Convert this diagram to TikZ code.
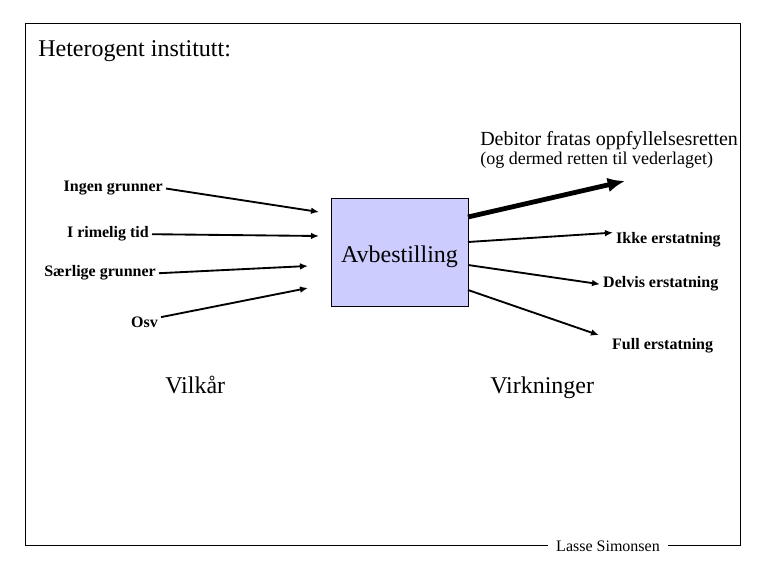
\documentclass[tikz,border=0pt]{standalone}
\usepackage{fontspec}
\setmainfont{Liberation Serif}
\usetikzlibrary{arrows.meta}
\definecolor{ink}{HTML}{000000}
\definecolor{boxfill}{HTML}{CCCCFF}

\begin{document}
\begin{tikzpicture}[x=0.75pt,y=-0.75pt,>={Latex[length=6pt,width=5pt]},
  lbl/.style={font=\fontsize{12}{14}\selectfont\bfseries,inner xsep=2.2pt,inner ysep=0pt},
  big/.style={font=\fontsize{18}{21}\selectfont,inner sep=0pt},
  pil/.style={->,line width=1.4pt,draw=ink}]
  \useasboundingbox (0,0) rectangle (765,570);
  % frame
  \draw[draw=ink,line width=0.75pt] (25,24) rectangle (740,546);
  \node[font=\fontsize{12}{14}\selectfont,fill=white,inner xsep=6pt,inner ysep=1pt]
    (author) at (608,546) {Lasse Simonsen};
  \node[big,anchor=base west] (title) at (38,57) {Heterogent institutt:};
  % centre box
  \node[draw=ink,fill=boxfill,line width=0.75pt,minimum width=102.75pt,
    minimum height=81pt,inner sep=0pt,text height=13.6pt,text depth=0pt,
    font=\fontsize{18}{21}\selectfont] (avb) at (399.5,253) {Avbestilling};
  % left: vilkaar
  \node[lbl,anchor=base east] (ingen) at (166,192) {Ingen grunner};
  \node[lbl,anchor=base east] (rimelig) at (152,238) {I rimelig tid};
  \node[lbl,anchor=base east] (saerlige) at (159,277) {Særlige grunner};
  \node[lbl,anchor=base east] (osv) at (161,328) {Osv};
  \coordinate (e1) at (319,212);
  \coordinate (e2) at (319,236);
  \coordinate (e3) at (308,266);
  \coordinate (e4) at (308,288);
  \draw[pil] (ingen.east) -- (e1);
  \draw[pil] (rimelig.east) -- (e2);
  \draw[pil] (saerlige.east) -- (e3);
  \draw[pil] (osv.north east) -- (e4);
  \node[big,anchor=base west] (vilkaar) at (165,394) {Vilkår};
  % right: virkninger
  \node[font=\fontsize{15}{17}\selectfont,inner sep=0pt,anchor=base west]
    (debitor) at (480,146) {Debitor fratas oppfyllelsesretten};
  \node[font=\fontsize{13.5}{15}\selectfont,inner sep=0pt,anchor=base west]
    (vederlag) at (480,165) {(og dermed retten til vederlaget)};
  \node[lbl,anchor=base west] (ikke) at (613,244) {Ikke erstatning};
  \node[lbl,anchor=base west] (delvis) at (600,288) {Delvis erstatning};
  \node[lbl,anchor=base west] (full) at (609,350) {Full erstatning};
  \coordinate (s0) at (468,217);
  \coordinate (s1) at (468,242);
  \coordinate (s2) at (468,265);
  \coordinate (s3) at (468,290);
  \coordinate (t0) at (625,181);
  \draw[->,line width=3.6pt,draw=ink,>={Latex[length=13pt,width=11pt]}] (s0) -- (t0);
  \draw[pil] (s1) -- (ikke.north west);
  \draw[pil] (s2) -- (delvis.west);
  \draw[pil,shorten >=8pt] (s3) -- (full.north west);
  \node[big,anchor=base west] (virkning) at (490,394) {Virkninger};
\end{tikzpicture}
\end{document}
